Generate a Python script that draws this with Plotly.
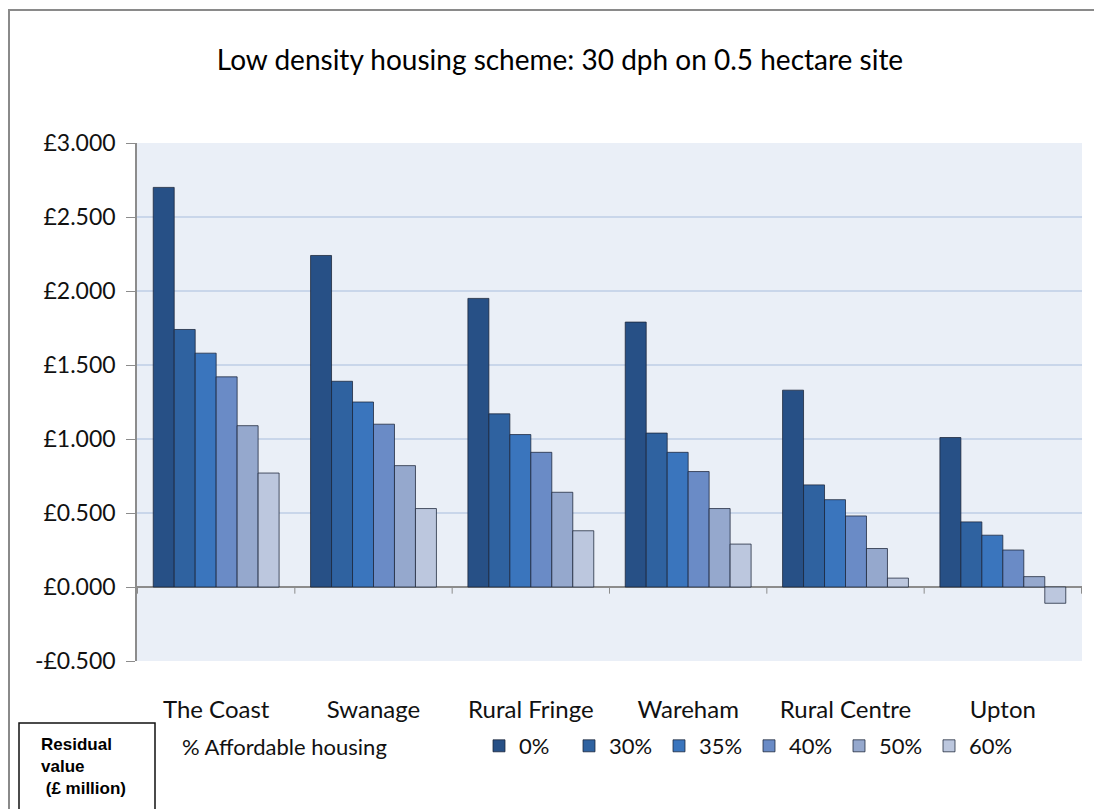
import plotly.graph_objects as go

categories = ["The Coast", "Swanage", "Rural Fringe", "Wareham", "Rural Centre", "Upton"]
series_names = ["0%", "30%", "35%", "40%", "50%", "60%"]
v0 = [2.70, 2.24, 1.95, 1.79, 1.33, 1.01]
v30 = [1.74, 1.39, 1.17, 1.04, 0.69, 0.44]
v35 = [1.58, 1.25, 1.03, 0.91, 0.59, 0.35]
v40 = [1.42, 1.10, 0.91, 0.78, 0.48, 0.25]
v50 = [1.09, 0.82, 0.64, 0.53, 0.26, 0.07]
v60 = [0.77, 0.53, 0.38, 0.29, 0.06, -0.11]
series_values = [v0, v30, v35, v40, v50, v60]
colors = ["#275086", "#2f62a0", "#3a75bd", "#6a8bc6", "#95a8cd", "#bcc7de"]
ytick_vals = [-0.5, 0.0, 0.5, 1.0, 1.5, 2.0, 2.5, 3.0]
ytick_text = ["-£0.500", "£0.000", "£0.500", "£1.000", "£1.500", "£2.000", "£2.500", "£3.000"]

FONT = "Lato, 'Open Sans', sans-serif"
OFF = 8  # page body margin
W, H = 1102 - OFF, 809 - OFF
# plot area in window pixels: x 137..1082, y 143..661
ML = 137 - OFF
MT = 143 - OFF
MR = W - (1082 - OFF)
MB = H - (661 - OFF)
PW, PH = W - ML - MR, H - MT - MB

def px(xw):
    return (xw - OFF - ML) / PW

def py(yw):
    return (H - MB - (yw - OFF)) / PH

fig = go.Figure()
for name, vals, col in zip(series_names, series_values, colors):
    fig.add_trace(go.Bar(
        x=categories, y=vals, name=name,
        marker=dict(color=col, line=dict(color="rgba(25,35,55,0.75)", width=1)),
    ))

shapes = []
for i in range(len(categories) + 1):
    shapes.append(dict(type="line", xref="x", yref="y", x0=i - 0.5, x1=i - 0.5,
                       y0=0, y1=-0.045, line=dict(color="#8c8c8c", width=1)))
shapes.append(dict(type="rect", xref="paper", yref="paper",
                   x0=px(9), x1=px(1115), y0=py(830), y1=py(10),
                   line=dict(color="#8a8a8a", width=2), fillcolor="rgba(0,0,0,0)", layer="above"))
shapes.append(dict(type="rect", xref="paper", yref="paper",
                   x0=px(19), x1=px(155), y0=py(830), y1=py(723),
                   line=dict(color="#111111", width=1.5), fillcolor="rgba(0,0,0,0)"))

annotations = [
    dict(text="<b>Residual<br>value<br> (£ million)</b>", xref="paper", yref="paper",
         x=px(39), y=py(733), xanchor="left", yanchor="top", align="left", showarrow=False,
         font=dict(family="'Liberation Sans', Arial, sans-serif", size=17, color="#000000")),
    dict(text="% Affordable housing", xref="paper", yref="paper",
         x=px(284), y=py(746), xanchor="center", yanchor="middle", showarrow=False,
         font=dict(family=FONT, size=22, color="#111111")),
]

fig.update_layout(
    width=W, height=H,
    margin=dict(l=ML, r=MR, t=MT, b=MB),
    paper_bgcolor="white", plot_bgcolor="#eaeff7",
    barmode="group", bargap=0.2, bargroupgap=0,
    title=dict(text="Low density housing scheme: 30 dph on 0.5 hectare site",
               xref="paper", x=px(560), xanchor="center", y=1 - (60 - OFF) / H, yanchor="middle",
               font=dict(family=FONT, size=28, color="#000000")),
    font=dict(family=FONT, size=20, color="#000000"),
    showlegend=True,
    legend=dict(orientation="h", x=px(479), y=py(746), xanchor="left", yanchor="middle",
                entrywidth=45, entrywidthmode="pixels", itemwidth=30,
                font=dict(family=FONT, size=22, color="#111111"), bgcolor="rgba(0,0,0,0)",
                traceorder="normal"),
    shapes=shapes,
    annotations=annotations,
    xaxis=dict(showgrid=False, showline=False, zeroline=False, ticks="",
               ticklabelstandoff=32, tickfont=dict(family=FONT, size=24, color="#111111")),
    yaxis=dict(range=[-0.5, 3.0], tickvals=ytick_vals, ticktext=ytick_text,
               showgrid=True, gridcolor="#c9d6ea", gridwidth=1.5,
               zeroline=True, zerolinecolor="#8c8c8c", zerolinewidth=1.5,
               showline=True, linecolor="#8c8c8c", linewidth=1.5,
               ticks="outside", ticklen=9, tickcolor="#8c8c8c",
               ticklabelstandoff=6,
               tickfont=dict(family=FONT, size=23, color="#111111")),
)

fig.write_html("out.html")
